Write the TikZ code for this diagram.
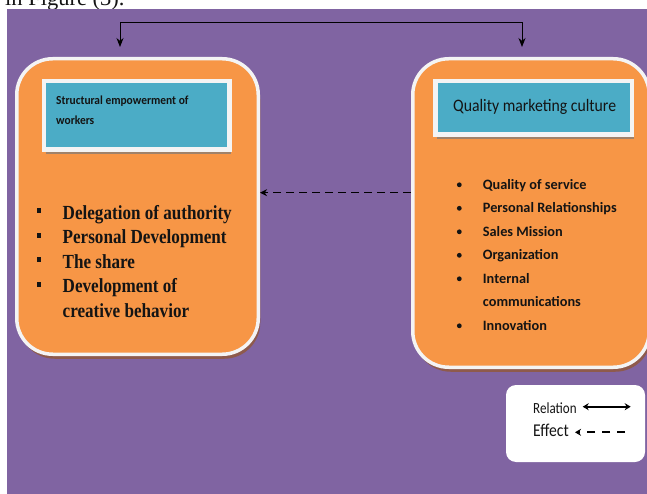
\documentclass[tikz,border=0pt]{standalone}
\usepackage{fontspec}
\setmainfont{Liberation Serif}
\newfontfamily\carlito{Carlito}
\usetikzlibrary{arrows.meta,calc,shadows}
\definecolor{bgpurple}{HTML}{8064A2}
\definecolor{boxorange}{HTML}{F79646}
\definecolor{boxteal}{HTML}{4BACC6}
\definecolor{rimwhite}{HTML}{F4F4F4}
\definecolor{shadowbrown}{HTML}{8E5A4C}
\definecolor{shadowgrey}{HTML}{A0826A}
\definecolor{inkblack}{HTML}{141414}
\newcommand{\sqz}[2]{\scalebox{#1}[1]{#2}}
\begin{document}
\begin{tikzpicture}[x=1pt,y=-1pt,
  obox/.style={draw=rimwhite, line width=3.5pt, fill=boxorange, rounded corners=36pt, inner sep=0pt,
     drop shadow={shadow xshift=2pt, shadow yshift=-4.5pt, fill=shadowbrown, opacity=1}},
  tbox/.style={draw=rimwhite, line width=4.5pt, fill=boxteal, inner sep=0pt,
     drop shadow={shadow xshift=2pt, shadow yshift=-4pt, fill=shadowgrey, opacity=1}},
  legbox/.style={fill=white, rounded corners=10pt, inner sep=0pt, minimum width=139pt, minimum height=77pt},
  lst/.style={anchor=base west, inner sep=0pt, text=inkblack, font=\fontsize{20}{24}\selectfont\bfseries},
  rst/.style={anchor=base west, inner sep=0pt, text=inkblack, font=\carlito\bfseries\fontsize{14.3}{17}\selectfont},
  ttl/.style={anchor=base west, inner sep=0pt, text=inkblack},
  rel/.style={line width=0.9pt, {Stealth[length=9pt,width=7pt]}-{Stealth[length=9pt,width=7pt]}},
  effarrow/.style={line width=1.6pt, dash pattern=on 8pt off 5pt, -{Stealth[length=7pt,width=7pt]}},
  legrel/.style={line width=2pt, {Stealth[length=6pt,width=7pt]}-{Stealth[length=6pt,width=7pt]}},
  legeff/.style={line width=2pt, dash pattern=on 8pt off 7pt, -{Stealth[length=6pt,width=7pt]}}
]
\useasboundingbox (0,0) rectangle (647,494);
\fill[white] (0,0) rectangle (647,494);
\fill[bgpurple] (7,9) rectangle (647,494);
\begin{scope}
  \clip (0,0) rectangle (647,9);
  \node[ttl, font=\fontsize{22.5}{27}\selectfont] (cap) at (5,6) {in Figure (3).};
\end{scope}

% main boxes
\node[obox, minimum width=241.5pt, minimum height=295.5pt] (L) at (137.5,206.5) {};
\node[obox, minimum width=236.5pt, minimum height=308.5pt] (R) at (531,213) {};

% title boxes
\node[tbox, minimum width=185.5pt, minimum height=68.5pt] (LT) at (136.7,115.5) {};
\node[tbox, minimum width=196.5pt, minimum height=53.5pt] (RT) at (533.5,108) {};

\node[ttl, font=\carlito\bfseries\fontsize{12.3}{15}\selectfont] (lt1) at (56,104.3) {\sqz{0.93}{Structural empowerment of}};
\node[ttl, font=\carlito\bfseries\fontsize{12.3}{15}\selectfont] (lt2) at (56,125) {\sqz{0.93}{workers}};
\node[ttl, font=\carlito\fontsize{17.5}{21}\selectfont] (rt1) at (453,111.7) {\sqz{0.9}{Quality marketing culture}};

% left list
\foreach \t [count=\i] in {Delegation of authority, Personal Development, The share, Development of, creative behavior}
  \node[lst] (li\i) at (62.5,{219+24.5*(\i-1)}) {\sqz{0.855}{\t}};
\foreach \i in {1,...,4}
  \fill[inkblack] (37.3,{219+24.5*(\i-1)-10.7}) rectangle ++(4,5);

% right list
\foreach \t [count=\i] in {Quality of service, Personal Relationships, Sales Mission, Organization, Internal, communications, Innovation}
  \node[rst] (ri\i) at (482.7,{189.3+23.5*(\i-1)}) {\t};
\foreach \i in {1,2,3,4,5,7}
  \fill[inkblack] (459.3,{189.3+23.5*(\i-1)-4.5}) circle (2.4);

% relation connector
\coordinate (topy) at (0,22);
\coordinate (la) at ($(L.north)+(-17.5,-10)$);
\coordinate (ra) at ($(R.north)+(-9,-10)$);
\draw[rel] (la) -- (la |- topy) -- (ra |- topy) -- (ra);

% effect connector
\coordinate (effy) at (0,192.7);
\draw[effarrow] (R.west |- effy) -- (L.east |- effy);

% legend
\node[legbox] (leg) at (575.5,423.5) {};
\node[ttl, font=\carlito\fontsize{15.5}{18}\selectfont] (legr) at (533,413.3) {\sqz{0.84}{Relation}};
\node[ttl, font=\carlito\fontsize{18}{21}\selectfont] (lege) at (533,436.7) {\sqz{0.87}{Effect}};
\coordinate (lr1) at (582.7,406.7);
\coordinate (lr2) at (630.7,406.7);
\draw[legrel] (lr1) -- (lr2);
\coordinate (le1) at (625,432.3);
\coordinate (le2) at (575,432.3);
\draw[legeff] (le1) -- (le2);
\end{tikzpicture}
\end{document}
